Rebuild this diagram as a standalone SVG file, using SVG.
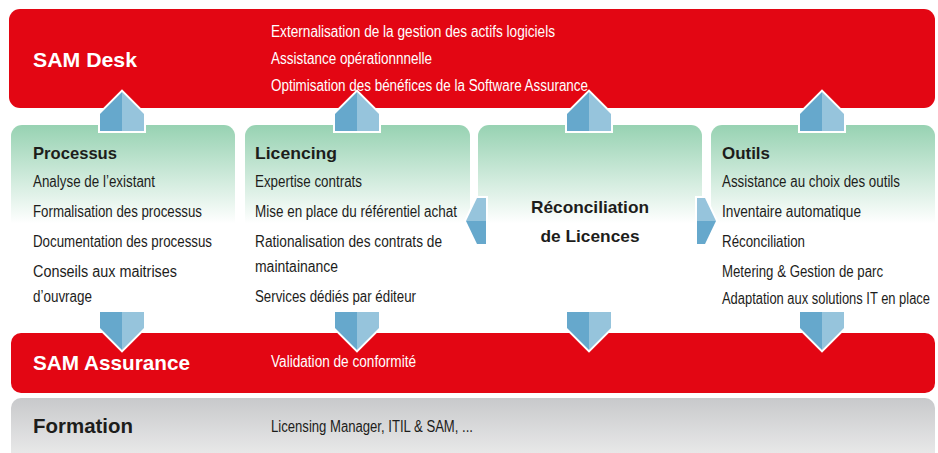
<svg xmlns="http://www.w3.org/2000/svg" width="938" height="453" viewBox="0 0 938 453">
<style>
.red{fill:#e30613}
.col{fill:url(#gGreen)}
.t{font-family:"Liberation Sans Narrow","Liberation Sans",Arial,sans-serif;font-size:16px;fill:#1d1d1b}
.tw{font-family:"Liberation Sans Narrow","Liberation Sans",Arial,sans-serif;font-size:16px;fill:#ffffff}
.h{font-family:"Liberation Sans",Arial,sans-serif;font-size:17px;font-weight:bold;fill:#1d1d1b}
.hb{font-family:"Liberation Sans",Arial,sans-serif;font-size:21px;font-weight:bold}
.dk{fill:#66a8cc}
.lt{fill:#96c4dc}
.bd{fill:#ffffff;stroke:#ffffff;stroke-width:4;stroke-linejoin:miter}
</style>
<defs>
<linearGradient id="gGreen" x1="0" y1="0" x2="0" y2="1">
<stop offset="0" stop-color="#97d2b2"/>
<stop offset="0.48" stop-color="#ffffff"/>
<stop offset="1" stop-color="#ffffff"/>
</linearGradient>
<linearGradient id="gGrey" x1="0" y1="0" x2="0" y2="1">
<stop offset="0" stop-color="#c8c9cb"/>
<stop offset="1" stop-color="#eeeeee"/>
</linearGradient>
</defs>
<rect width="938" height="453" fill="#ffffff"/>

<g id="sam-desk">
<rect class="red" x="9" y="9" width="926" height="99" rx="11"/>
<text class="hb" x="33" y="67" fill="#ffffff" textLength="104" lengthAdjust="spacingAndGlyphs">SAM Desk</text>
<text class="tw" x="271" y="37" textLength="284" lengthAdjust="spacingAndGlyphs">Externalisation de la gestion des actifs logiciels</text>
<text class="tw" x="271" y="64" textLength="161" lengthAdjust="spacingAndGlyphs">Assistance opérationnnelle</text>
<text class="tw" x="271" y="91" textLength="317" lengthAdjust="spacingAndGlyphs">Optimisation des bénéfices de la Software Assurance</text>
</g>

<g id="processus">
<rect class="col" x="11" y="125" width="224" height="205" rx="11"/>
<text class="h" x="33" y="159" textLength="84" lengthAdjust="spacingAndGlyphs">Processus</text>
<text class="t" x="33" y="187" textLength="122" lengthAdjust="spacingAndGlyphs">Analyse de l’existant</text>
<text class="t" x="33" y="217" textLength="169" lengthAdjust="spacingAndGlyphs">Formalisation des processus</text>
<text class="t" x="33" y="247" textLength="179" lengthAdjust="spacingAndGlyphs">Documentation des processus</text>
<text class="t" x="33" y="277" textLength="144" lengthAdjust="spacingAndGlyphs">Conseils aux maitrises</text>
<text class="t" x="33" y="302" textLength="59" lengthAdjust="spacingAndGlyphs">d’ouvrage</text>
</g>

<g id="licencing">
<rect class="col" x="245" y="125" width="225" height="205" rx="11"/>
<text class="h" x="255" y="159" textLength="82" lengthAdjust="spacingAndGlyphs">Licencing</text>
<text class="t" x="255" y="187" textLength="107" lengthAdjust="spacingAndGlyphs">Expertise contrats</text>
<text class="t" x="255" y="217" textLength="202" lengthAdjust="spacingAndGlyphs">Mise en place du référentiel achat</text>
<text class="t" x="255" y="247" textLength="187" lengthAdjust="spacingAndGlyphs">Rationalisation des contrats de</text>
<text class="t" x="255" y="272" textLength="83" lengthAdjust="spacingAndGlyphs">maintainance</text>
<text class="t" x="255" y="302" textLength="161" lengthAdjust="spacingAndGlyphs">Services dédiés par éditeur</text>
</g>

<g id="reconciliation">
<rect class="col" x="478" y="125" width="224" height="205" rx="11"/>
<text class="h" x="590" y="213" text-anchor="middle" textLength="118" lengthAdjust="spacingAndGlyphs">Réconciliation</text>
<text class="h" x="590" y="242" text-anchor="middle" textLength="99" lengthAdjust="spacingAndGlyphs">de Licences</text>
</g>

<g id="outils">
<rect class="col" x="711" y="125" width="224" height="205" rx="11"/>
<text class="h" x="722" y="159" textLength="48" lengthAdjust="spacingAndGlyphs">Outils</text>
<text class="t" x="722" y="187" textLength="178" lengthAdjust="spacingAndGlyphs">Assistance au choix des outils</text>
<text class="t" x="722" y="217" textLength="139" lengthAdjust="spacingAndGlyphs">Inventaire automatique</text>
<text class="t" x="722" y="247" textLength="83" lengthAdjust="spacingAndGlyphs">Réconciliation</text>
<text class="t" x="722" y="277" textLength="161" lengthAdjust="spacingAndGlyphs">Metering &amp; Gestion de parc</text>
<text class="t" x="722" y="304" textLength="208" lengthAdjust="spacingAndGlyphs">Adaptation aux solutions IT en place</text>
</g>

<g id="sam-assurance">
<rect class="red" x="11" y="333" width="924" height="60" rx="10"/>
<text class="hb" x="33" y="370" fill="#ffffff" textLength="157" lengthAdjust="spacingAndGlyphs">SAM Assurance</text>
<text class="tw" x="271" y="367" textLength="145" lengthAdjust="spacingAndGlyphs">Validation de conformité</text>
</g>

<g id="formation">
<rect x="11" y="398" width="924" height="66" rx="10" fill="url(#gGrey)"/>
<text class="hb" x="33" y="433" fill="#1d1d1b" textLength="100" lengthAdjust="spacingAndGlyphs">Formation</text>
<text class="t" x="271" y="432" textLength="202" lengthAdjust="spacingAndGlyphs">Licensing Manager, ITIL &amp; SAM, ...</text>
</g>

<g id="connectors">
<g id="up1">
<polygon class="bd" points="100,131 100,114 122,92 144,114 144,131"/>
<polygon class="dk" points="100,131 100,114 122,92 122,131"/>
<polygon class="lt" points="122,92 144,114 144,131 122,131"/>
</g>
<g id="up2">
<polygon class="bd" points="335,131 335,114 357,92 379,114 379,131"/>
<polygon class="dk" points="335,131 335,114 357,92 357,131"/>
<polygon class="lt" points="357,92 379,114 379,131 357,131"/>
</g>
<g id="up3">
<polygon class="bd" points="567,131 567,114 589,92 611,114 611,131"/>
<polygon class="dk" points="567,131 567,114 589,92 589,131"/>
<polygon class="lt" points="589,92 611,114 611,131 589,131"/>
</g>
<g id="up4">
<polygon class="bd" points="800,131 800,114 822,92 844,114 844,131"/>
<polygon class="dk" points="800,131 800,114 822,92 822,131"/>
<polygon class="lt" points="822,92 844,114 844,131 822,131"/>
</g>
<g id="down1">
<polygon class="bd" points="100,312 144,312 144,328 122,350 100,328"/>
<polygon class="dk" points="100,312 122,312 122,350 100,328"/>
<polygon class="lt" points="122,312 144,312 144,328 122,350"/>
</g>
<g id="down2">
<polygon class="bd" points="335,312 379,312 379,328 357,350 335,328"/>
<polygon class="dk" points="335,312 357,312 357,350 335,328"/>
<polygon class="lt" points="357,312 379,312 379,328 357,350"/>
</g>
<g id="down3">
<polygon class="bd" points="567,312 611,312 611,328 589,350 567,328"/>
<polygon class="dk" points="567,312 589,312 589,350 567,328"/>
<polygon class="lt" points="589,312 611,312 611,328 589,350"/>
</g>
<g id="down4">
<polygon class="bd" points="800,312 844,312 844,328 822,350 800,328"/>
<polygon class="dk" points="800,312 822,312 822,350 800,328"/>
<polygon class="lt" points="822,312 844,312 844,328 822,350"/>
</g>
<g id="left">
<polygon class="bd" points="486,198 477,198 466,221 477,244 486,244"/>
<polygon class="lt" points="486,198 477,198 466,221 486,221"/>
<polygon class="dk" points="486,221 466,221 477,244 486,244"/>
</g>
<g id="right">
<polygon class="bd" points="697,198 705,198 716,221 705,244 697,244"/>
<polygon class="lt" points="697,198 705,198 716,221 697,221"/>
<polygon class="dk" points="697,221 716,221 705,244 697,244"/>
</g>
</g>
</svg>
